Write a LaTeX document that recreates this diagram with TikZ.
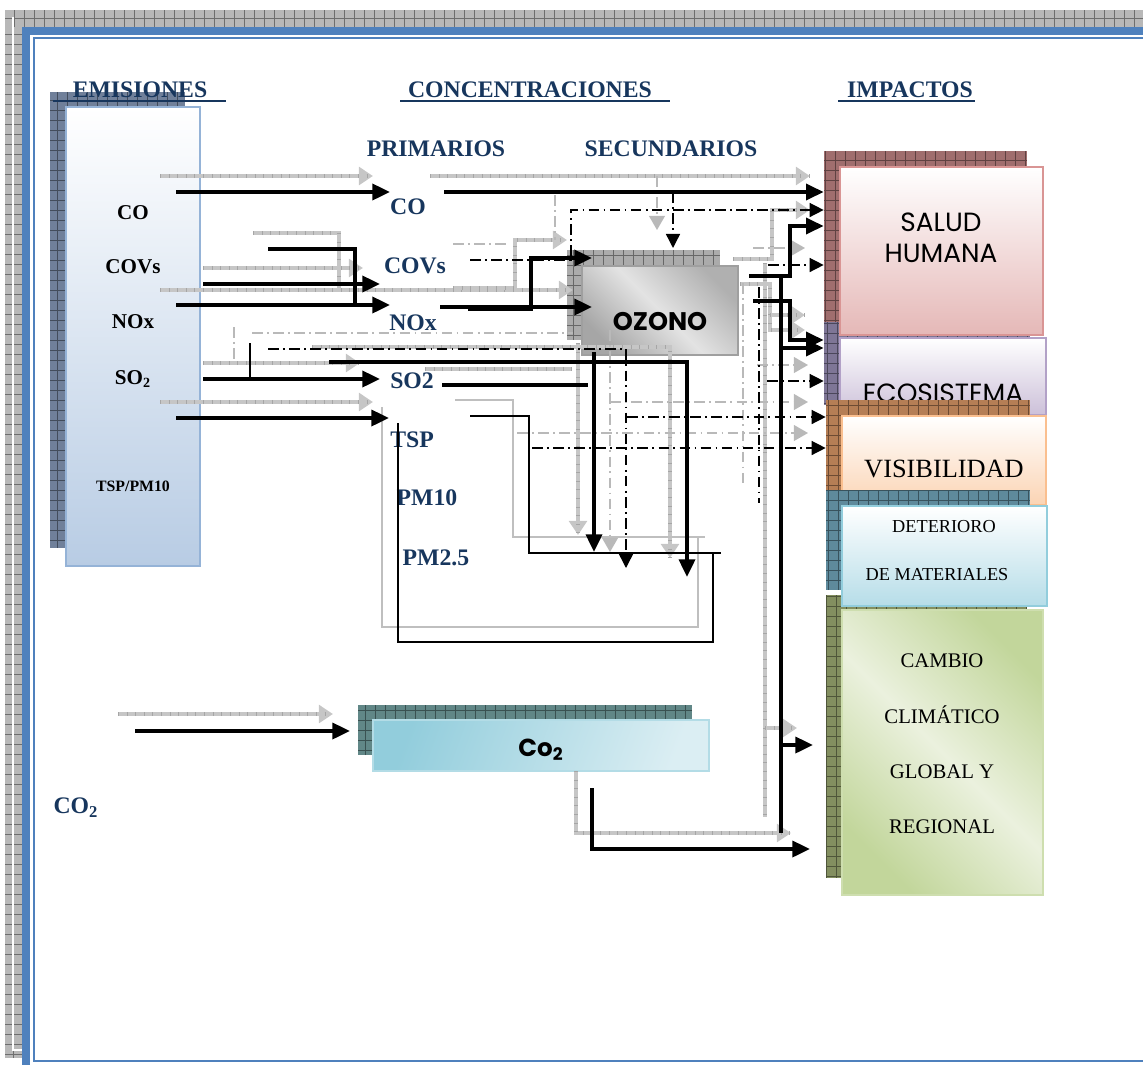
\documentclass[tikz,border=0pt]{standalone}
\usepackage{fontspec}
\setmainfont{Liberation Serif}
\newfontfamily\geofont{Poppins}
\usetikzlibrary{arrows.meta}

\definecolor{navy}{HTML}{17365D}
\definecolor{frameblue}{HTML}{4F81BD}
\definecolor{emiedge}{HTML}{95B3D7}
\definecolor{emibot}{HTML}{B8CCE4}
\definecolor{saledge}{HTML}{D99594}
\definecolor{salbot}{HTML}{E5B8B7}
\definecolor{ecoedge}{HTML}{B2A1C7}
\definecolor{ecobot}{HTML}{CCC0D9}
\definecolor{visedge}{HTML}{FABF8F}
\definecolor{visbot}{HTML}{FBD4B4}
\definecolor{detedge}{HTML}{92CDDC}
\definecolor{detbot}{HTML}{B6DDE8}
\definecolor{camdark}{HTML}{C2D69B}
\definecolor{camlight}{HTML}{EBF1DE}
\definecolor{coedge}{HTML}{92CDDC}
\definecolor{colight}{HTML}{DBEEF3}
% shadow colours
\definecolor{brdshdc}{HTML}{B8B8B8}
\definecolor{emishdc}{HTML}{70809A}
\definecolor{salshdc}{HTML}{A06E6E}
\definecolor{ecoshdc}{HTML}{7E7696}
\definecolor{visshdc}{HTML}{B57E55}
\definecolor{detshdc}{HTML}{5E8A9C}
\definecolor{camshdc}{HTML}{838F60}
\definecolor{ozoshdc}{HTML}{ABABAB}
\definecolor{coshdc}{HTML}{618787}

\tikzset{
  hdr/.style={text=navy, font=\fontsize{13.5}{16}\selectfont\bfseries, inner sep=1pt},
  emlbl/.style={font=\fontsize{12}{14}\selectfont\bfseries, inner sep=1pt},
  shd/.style={fill=#1, inner sep=0pt,
    path picture={\draw[#1!60!black, line width=0.35pt, step=0.2cm]
      (path picture bounding box.south west) grid (path picture bounding box.north east);}},
  box/.style={draw=#1, line width=1.3pt, inner sep=0pt},
  blk/.style={line width=2.2pt, -{Triangle[length=10pt,width=9pt]}},
  blkln/.style={line width=2.2pt},
  thinln/.style={line width=0.9pt},
  gry/.style={draw=gray!45, line width=2.8pt, -{Triangle[length=8pt,width=10pt]},
    postaction={draw=gray!70, arrows=-, dash pattern=on 0.4pt off 4.5pt}},
  gryln/.style={draw=gray!45, line width=2.8pt,
    postaction={draw=gray!70, dash pattern=on 0.4pt off 4.5pt}},
  gthin/.style={draw=gray!50, line width=0.9pt},
  dd/.style={line width=0.8pt, dash pattern=on 6pt off 2.5pt on 1pt off 2.5pt,
    -{Triangle[length=8pt,width=8pt]}},
  ddln/.style={line width=0.8pt, dash pattern=on 6pt off 2.5pt on 1pt off 2.5pt},
  gdd/.style={draw=gray!55, line width=0.8pt, dash pattern=on 6pt off 2.5pt on 1pt off 2.5pt,
    -{Triangle[length=8pt,width=9pt]}},
  gddln/.style={draw=gray!55, line width=0.8pt, dash pattern=on 6pt off 2.5pt on 1pt off 2.5pt}
}

\begin{document}
\begin{tikzpicture}[x=0.02cm, y=-0.02cm]
\useasboundingbox (0,0) rectangle (1143,1065);

    % Page frame
    \node (frmleft) [shd=brdshdc, minimum width=0.34cm, minimum height=20.96cm] at (13.5,534) {};
    \node (frmtop) [shd=brdshdc, minimum width=22.76cm, minimum height=0.34cm] at (574,18.5) {};
    \draw[white, line width=0.8pt] (13,17) -- (13,1050) -- (22,1050);
    \draw[frameblue, line width=4.5pt] (26,1065) -- (26,31) -- (1143,31);
    \draw[frameblue, line width=1.2pt] (1143,38) -- (34,38) -- (34,1061) -- (1143,1061);

    % Emisiones box
    \node (emishd) [shd=emishdc, minimum width=2.7cm, minimum height=9.12cm] at (117.5,320) {};
    \node (emibox) [box=emiedge, top color=white, bottom color=emibot, minimum width=2.68cm, minimum height=9.18cm] at (133,336.5) {};

    % Ozono and Co2 boxes
    \node (ozoshd) [shd=ozoshdc, minimum width=3.06cm, minimum height=1.8cm] at (643.5,295) {};
    \node (ozo) [box=gray!75, left color=gray!62, right color=gray!70, middle color=gray!22, shading angle=-45, minimum width=3.12cm, minimum height=1.78cm] at (660,310.5) {};
    \node (coshd) [shd=coshdc, minimum width=6.68cm, minimum height=1cm] at (525,730) {};
    \node (cobox) [box=coedge!70, left color=coedge, right color=colight, shading angle=70, minimum width=6.72cm, minimum height=1.02cm] at (541,745.5) {};

    % Impactos boxes
    \node (salshd) [shd=salshdc, minimum width=4.06cm, minimum height=3.58cm] at (925.5,240.5) {};
    \node (ecoshd) [shd=ecoshdc, minimum width=4.12cm, minimum height=1.66cm] at (927,363.5) {};
    \node (salud) [box=saledge, top color=white, bottom color=salbot, minimum width=4.06cm, minimum height=3.36cm] at (941.5,251) {};
    \node (saltxt) [font=\geofont\fontsize{15}{17.6}\selectfont, align=center] at (941,238) {SALUD\\HUMANA};
    \node (eco) [box=ecoedge, top color=white, bottom color=ecobot, minimum width=4.12cm, minimum height=1.54cm] at (943,376.5) {};
    \node (ecotxt) [font=\geofont\fontsize{15}{17}\selectfont] at (943,393) {ECOSISTEMA};
    \node (visshd) [shd=visshdc, minimum width=4.08cm, minimum height=1.8cm] at (928,445) {};
    \node (vis) [box=visedge, top color=white, bottom color=visbot, minimum width=4.08cm, minimum height=1.78cm] at (944,460.5) {};
    \node (vistxt) [font=\fontsize{15}{17}\selectfont] at (944,469) {VISIBILIDAD};
    \node (detshd) [shd=detshdc, minimum width=4.08cm, minimum height=2cm] at (928,540) {};
    \node (camshd) [shd=camshdc, minimum width=4.02cm, minimum height=5.66cm] at (926.5,736.5) {};
    \node (det) [box=detedge, top color=white, bottom color=detbot, minimum width=4.1cm, minimum height=2cm] at (944.5,556) {};
    \node (dettxta) [font=\fontsize{10.4}{12}\selectfont] at (944,527) {DETERIORO};
    \node (dettxtb) [font=\fontsize{10.4}{12}\selectfont] at (937,575) {DE MATERIALES};
    \node (cam) [box=camdark!80, left color=camdark, right color=camdark, middle color=camlight, shading angle=-45, minimum width=4.02cm, minimum height=5.7cm] at (942.5,752.5) {};
    \node (camtxt) [font=\fontsize{11.8}{31.5}\selectfont, align=center] at (942,744) {CAMBIO\\CLIM\'ATICO\\GLOBAL Y\\REGIONAL};

    % Headers
    \node (emihd) [hdr] at (140,90) {EMISIONES};
    \draw[navy, line width=1.3pt] (53,101) -- (226,101);
    \node (conchd) [hdr] at (530,90) {CONCENTRACIONES};
    \draw[navy, line width=1.3pt] (400,101) -- (670,101);
    \node (imphd) [hdr] at (910,90) {IMPACTOS};
    \draw[navy, line width=1.3pt] (838,101) -- (975,101);
    \node (prim) [hdr] at (436,149) {PRIMARIOS};
    \node (secu) [hdr] at (671,149) {SECUNDARIOS};

    % Emitted species
    \node (eCO) [emlbl] at (133,213) {CO};
    \node (eCOV) [emlbl] at (133,267) {COVs};
    \node (eNOX) [emlbl] at (133,322) {NOx};
    \node (eSO2) [emlbl] at (133,379) {SO\textsubscript{2}};
    \node (eTSP) [font=\fontsize{9}{11}\selectfont\bfseries] at (133,486) {TSP/PM10};

    % Primary species
    \node (pCO) [hdr] at (408,207) {CO};
    \node (pCOV) [hdr] at (415,266) {COVs};
    \node (pNOX) [hdr] at (413,323) {NOx};
    \node (pSO2) [hdr] at (412,381) {SO2};
    \node (pTSP) [hdr] at (412,440) {TSP};
    \node (pPM10) [hdr] at (427,498) {PM10};
    \node (pPM25) [hdr] at (436,558) {PM2.5};
    \node (eCO2) [hdr] at (76,808) {CO\textsubscript{2}};

    % gray paths
    \draw[gry] (160,176) -- (373,176);
    \draw[gry] (430,176) -- (810,176);
    \draw[gryln] (253,233) -- (339,233) -- (339,290);
    \draw[gry] (203,268) -- (363,268);
    \draw[gry] (160,290) -- (573,290);
    \draw[gry] (453,288) -- (515,288) -- (515,240) -- (567,240);
    \draw[gry] (312,347) -- (670,347) -- (670,558);
    \draw[gry] (203,363) -- (360,363);
    \draw[gryln] (425,369) -- (572,369);
    \draw[gry] (160,402) -- (373,402);
    \draw[gry] (578,343) -- (578,535);
    \draw[gry] (733,259) -- (772,259) -- (772,210) -- (810,210);
    \draw[gry] (740,284) -- (770,284) -- (770,330) -- (805,330);
    \draw[gry] (770,315) -- (805,315);
    \draw[gryln] (765,263) -- (765,817);
    \draw[gry] (765,728) -- (797,728);
    \draw[gry] (118,714) -- (333,714);
    \draw[gry] (576,771) -- (576,833) -- (791,833);

    % thin frames round TSP
    \draw[gthin] (455,400) -- (513,400) -- (513,537) -- (705,537);
    \draw[gthin] (698,537) -- (698,627) -- (382,627) -- (382,407);
    \draw[thinln] (470,416) -- (529,416) -- (529,553) -- (721,553);
    \draw[thinln] (713,553) -- (713,642) -- (398,642) -- (398,423);

    % gray dash dot paths
    \draw[gdd] (657,176) -- (657,230);
    \draw[gddln] (555,195) -- (555,240);
    \draw[gddln] (453,244) -- (510,244);
    \draw[gddln] (252,333) -- (573,333);
    \draw[gddln] (234,327) -- (234,363);
    \draw[gdd] (610,330) -- (610,552);
    \draw[gdd] (753,248) -- (805,248);
    \draw[gdd] (757,365) -- (808,365);
    \draw[gdd] (610,402) -- (808,402);
    \draw[gdd] (517,433) -- (808,433);
    \draw[gddln] (743,283) -- (743,485);

    % black dash dot paths
    \draw[dd] (470,260) -- (571,260) -- (571,210) -- (571,210 -| salshd.west);
    \draw[dd] (673,192) -- (673,248);
    \draw[dd] (268,349) -- (626,349) -- (626,568);
    \draw[dd] (768,265) -- (768,265 -| salshd.west);
    \draw[dd] (767,381) -- (767,381 -| ecoshd.west);
    \draw[dd] (627,417) -- (627,417 -| visshd.west);
    \draw[dd] (532,448) -- (532,448 -| visshd.west);
    \draw[ddln] (759,287) -- (759,503);

    % black paths
    \draw[blk] (176,192) -- (390,192);
    \draw[blk] (444,192) -- (444,192 -| salshd.west);
    \draw[blkln] (268,249) -- (355,249) -- (355,305);
    \draw[blk] (203,284) -- (380,284);
    \draw[blk] (176,305) -- (390,305);
    \draw[blk] (440,307) -- (592,307);
    \draw[blk] (468,309) -- (531,309) -- (531,258) -- (592,258);
    \draw[blk] (203,379) -- (380,379);
    \draw[thinln] (250,343) -- (250,379);
    \draw[blk] (329,362) -- (687,362) -- (687,577);
    \draw[blkln] (442,385) -- (588,385);
    \draw[blk] (176,418) -- (389,418);
    \draw[blk] (594,352) -- (594,552);
    \draw[blk] (749,276) -- (790,276) -- (790,226) -- (790,226 -| salshd.west);
    \draw[blkln] (781,276) -- (781,833);
    \draw[blk] (781,745) -- (813,745);
    \draw[blk] (753,301) -- (790,301) -- (790,340) -- (790,340 -| ecoshd.west);
    \draw[blk] (781,348) -- (781,348 -| ecoshd.west);
    \draw[blk] (135,731) -- (350,731);
    \draw[blk] (592,788) -- (592,849) -- (810,849);

    % box texts on top
    \node (ozotxt) [font=\geofont\bfseries\fontsize{14.5}{17}\selectfont] at (660,322) {OZONO};
    \node (cotxt) [font=\geofont\bfseries\fontsize{14}{17}\selectfont] at (541,750) {Co\textsubscript{2}};

\end{tikzpicture}
\end{document}
